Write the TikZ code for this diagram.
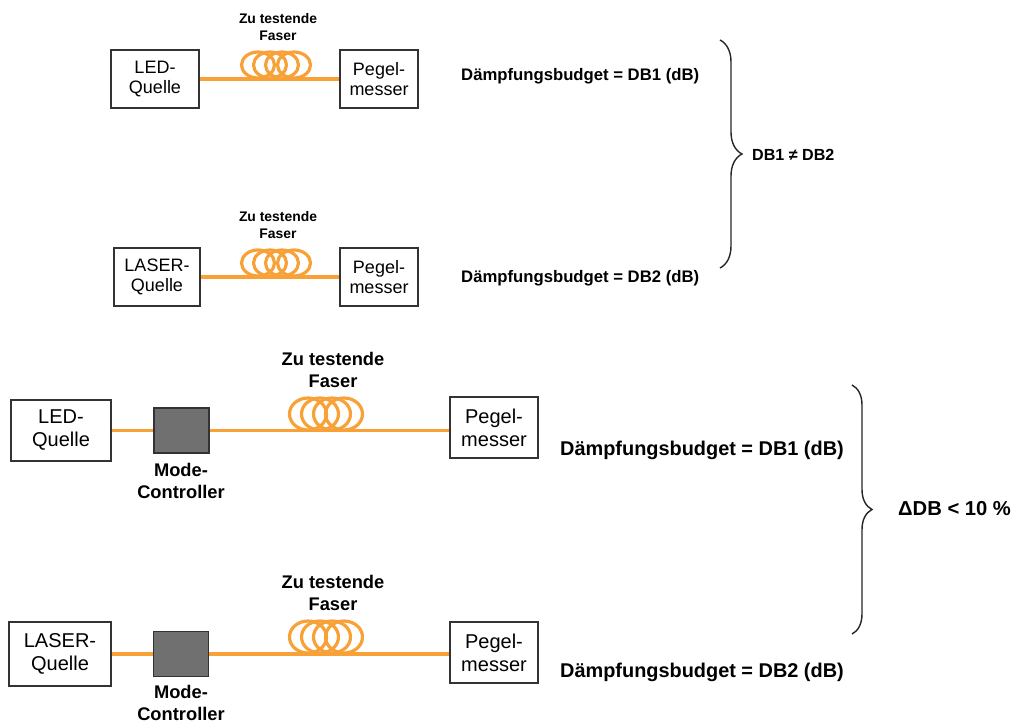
\documentclass[tikz,border=0pt]{standalone}
\usepackage{fontspec}
\setmainfont{Liberation Sans}
\usetikzlibrary{decorations.pathreplacing}
\definecolor{fiber}{HTML}{F8A137}
\definecolor{edge}{HTML}{333333}
\definecolor{mcfill}{HTML}{707070}
\tikzset{
  box/.style={draw=edge, line width=1.3pt, fill=white, align=center, inner sep=0pt},
  smallbox/.style={box, minimum width=#1, font=\fontsize{18}{20}\selectfont},
  bigbox/.style={box, minimum width=#1, font=\fontsize{20}{23}\selectfont},
  mcbox/.style={draw=edge, line width=1.3pt, fill=mcfill, minimum width=55pt, minimum height=45pt, inner sep=0pt},
  fib/.style={draw=fiber, line width=3.2pt},
  coil/.style={draw=fiber, line width=3.2pt},
  lblS/.style={font=\bfseries\fontsize{13.9}{17}\selectfont, align=center, inner sep=0pt},
  lblB/.style={font=\bfseries\fontsize{18.3}{22}\selectfont, align=center, inner sep=0pt},
  resS/.style={font=\bfseries\fontsize{16.7}{20}\selectfont, anchor=west, inner sep=0pt},
  resB/.style={font=\bfseries\fontsize{19.9}{24}\selectfont, anchor=west, inner sep=0pt},
  brc/.style={draw=black!85, line width=1.4pt, decorate, decoration={brace, amplitude=#1}},
}
\begin{document}
\begin{tikzpicture}[x=1pt, y=-1pt]
\useasboundingbox (0,0) rectangle (1014,725);

% ---------- Setup 1 (LED, small) ----------
\node[smallbox=88pt, minimum height=58pt] (led1) at (155,79) {LED-\\Quelle};
\node[smallbox=78pt, minimum height=58pt] (pm1) at (379,79) {Pegel-\\messer};
\draw[fib] (led1) -- (pm1);
\foreach \cx in {258,270,282,294} \draw[coil] (\cx,65) ellipse (16.5 and 13);
\node[lblS] (f1) at (278,27) {Zu testende\\Faser};
\node[resS] (r1) at (461,76) {Dämpfungsbudget = DB1 (dB)};

% ---------- Setup 2 (LASER, small) ----------
\node[smallbox=86pt, minimum height=58pt] (las2) at (157,277) {LASER-\\Quelle};
\node[smallbox=78pt, minimum height=58pt] (pm2) at (379,277) {Pegel-\\messer};
\draw[fib] (las2) -- (pm2);
\foreach \cx in {258,270,282,294} \draw[coil] (\cx,263) ellipse (16.5 and 13);
\node[lblS] (f2) at (278,225) {Zu testende\\Faser};
\node[resS] (r2) at (461,278) {Dämpfungsbudget = DB2 (dB)};

% brace 1
\coordinate (b1t) at (720,40);
\coordinate (b1b) at (720,268);
\draw[brc=22pt] (b1t) -- (b1b);
\node[font=\bfseries\fontsize{16.1}{19}\selectfont, anchor=west, inner sep=0pt] (d1) at (752,155) {DB1 ≠ DB2};

% ---------- Setup 3 (LED, mode controller) ----------
\node[bigbox=100pt, minimum height=61pt] (led3) at (61,430.5) {LED-\\Quelle};
\node[mcbox] (mc3) at (181.5,430.5) {};
\node[bigbox=88pt, minimum height=61pt] (pm3) at (494,427.5) {Pegel-\\messer};
\draw[fib] (led3) -- (mc3);
\draw[fib] (mc3.east) -- (mc3.east -| pm3.west);
\foreach \cx in {308,320,332,344} \draw[coil] (\cx,414) ellipse (18.5 and 16);
\node[lblB] (f3) at (333,370) {Zu testende\\Faser};
\node[lblB] (m3) at (181,481) {Mode-\\Controller};
\node[resB] (r3) at (560,450) {Dämpfungsbudget = DB1 (dB)};

% ---------- Setup 4 (LASER, mode controller) ----------
\node[bigbox=102pt, minimum height=64pt] (las4) at (60,654) {LASER-\\Quelle};
\node[mcbox] (mc4) at (181,654) {};
\node[bigbox=88pt, minimum height=61pt] (pm4) at (494,652.5) {Pegel-\\messer};
\draw[fib] (las4) -- (mc4);
\draw[fib] (mc4.east) -- (mc4.east -| pm4.west);
\foreach \cx in {308,320,332,344} \draw[coil] (\cx,637) ellipse (18.5 and 16);
\node[lblB] (f4) at (333,593) {Zu testende\\Faser};
\node[lblB] (m4) at (181,703) {Mode-\\Controller};
\node[resB] (r4) at (560,672) {Dämpfungsbudget = DB2 (dB)};

% brace 2
\coordinate (b2t) at (852,385);
\coordinate (b2b) at (852,634);
\draw[brc=20pt] (b2t) -- (b2b);
\node[font=\bfseries\fontsize{20.2}{24}\selectfont, anchor=west, inner sep=0pt] (d2) at (898,509) {ΔDB < 10 \%};
\end{tikzpicture}
\end{document}
